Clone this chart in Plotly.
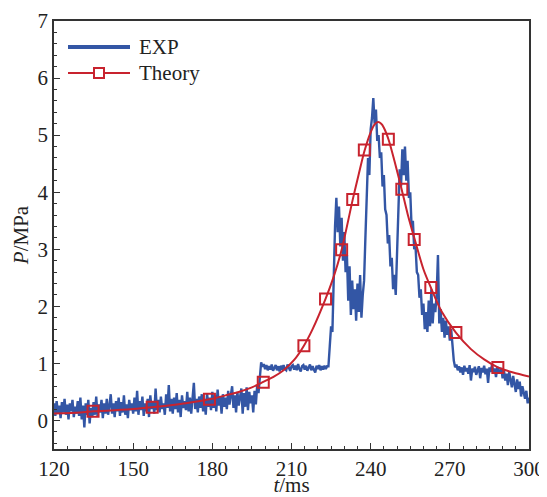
import numpy as np
import plotly.graph_objects as go

# ---------------- EXP data (segments: start time, values every 0.5 ms) ----------------
exp_step = 0.5
exp_seg1_t0 = 120.0
exp_seg1 = [
    0.30, 0.08, 0.34, 0.12, 0.26, 0.04, 0.32, 0.14, 0.38, 0.10,
    0.28, 0.02, 0.30, 0.16, 0.36, 0.06, 0.24, 0.12, 0.34, 0.08,
    0.40, 0.02, 0.26, -0.12, 0.30, 0.10, 0.36, -0.05, 0.22, 0.06,
    0.32, 0.10, 0.42, 0.08, 0.28, 0.14, 0.36, 0.04, 0.30, 0.12,
    0.38, 0.10, 0.26, 0.46, 0.12, 0.30, 0.06, 0.34, 0.16, 0.40,
    0.08, 0.32, 0.14, 0.44, 0.10, 0.28, 0.04, 0.36, 0.18, 0.30,
    0.12, 0.40, 0.16, 0.52, 0.10, 0.34, 0.18, 0.42, 0.08, 0.30,
    0.16, 0.38, 0.06, 0.44, 0.20, 0.34, 0.12, 0.56, 0.18, 0.36,
    0.14, 0.42, 0.20, 0.30, 0.10, 0.46, 0.22, 0.62, 0.16, 0.38,
    0.12, 0.40, 0.20, 0.48, 0.14, 0.36, 0.06, 0.44, 0.22, 0.34,
    0.18, 0.50, 0.16, 0.40, 0.12, 0.44, 0.66, 0.20, 0.38, 0.14,
    0.42, 0.22, 0.46, 0.16, 0.38, 0.10, 0.48, 0.24, 0.40, 0.18,
    0.50, 0.22, 0.44, 0.16, 0.54, 0.26, 0.42, 0.12, 0.46, 0.24,
    0.40, 0.20, 0.52, 0.28, 0.46, 0.60, 0.22, 0.44, 0.14, 0.50,
    0.26, 0.42, 0.56, 0.12, 0.48, 0.24, 0.58, 0.18, 0.50, 0.30,
    0.44, 0.14, 0.52, 0.28,
]
exp_seg2_t0 = 197.0
exp_seg2 = [
    0.62, 0.48, 0.85, 1.02, 0.94,
    0.99, 0.90, 0.97, 0.88, 0.95, 0.89, 0.98, 0.87, 0.94, 0.97,
    0.88, 0.95, 0.86, 0.96, 0.89, 0.97, 0.90, 0.88, 0.98, 0.91,
    0.87, 0.95, 0.97, 0.89, 0.96, 0.88, 0.99, 0.90, 0.86, 0.95,
    0.97, 0.89, 0.96, 0.87, 0.94, 0.98, 0.88, 0.95, 0.89, 0.84,
    0.96, 0.90, 0.97, 0.88, 0.95, 0.89, 0.96, 0.90, 0.95,
]
exp_seg3_t0 = 224.0
exp_seg3 = [
    0.95, 1.30, 1.65, 1.55, 2.60, 3.40, 3.90, 3.30, 3.75, 3.05,   # 224-228.5
    3.55, 2.80, 3.30, 2.60, 2.90, 2.10, 2.70, 1.85, 2.45, 1.95,   # 229-233.5
    2.30, 1.75, 2.40, 1.90, 2.55, 1.80, 2.20, 2.45, 3.20, 3.90,   # 234-238.5
    4.60, 4.30, 5.10, 5.30, 5.65, 5.20, 5.45, 4.90, 5.00, 4.60,   # 239-243.5
    4.70, 4.10, 4.30, 3.70, 3.60, 3.10, 3.25, 2.70, 2.85, 2.30,   # 244-248.5
    2.55, 2.20, 3.10, 3.80, 4.40, 4.10, 4.75, 4.30, 4.80, 4.20,   # 249-253.5
    4.55, 3.90, 4.00, 3.40, 3.50, 3.00, 3.05, 2.60, 2.55, 2.15,   # 254-258.5
    2.30, 1.85, 2.05, 1.60, 1.90, 1.55, 2.10, 1.65, 2.30, 1.70,   # 259-263.5
    2.05, 1.90, 2.20, 2.90, 1.70, 1.95, 1.55, 1.80, 1.45, 1.75,   # 264-268.5
    1.50, 1.65, 1.40, 1.60, 1.30, 1.05, 0.93,                     # 269-272
]
exp_seg4_t0 = 272.5
exp_seg4 = [
    0.98, 0.88, 0.95, 0.84, 0.93, 0.80, 0.96, 0.86, 0.92, 0.82,
    0.97, 0.70, 0.91, 0.85, 0.94, 0.80, 0.90, 0.95, 0.74, 0.92,
    0.84, 0.96, 0.81, 0.91, 0.66, 0.93, 0.85, 0.98, 0.82, 0.91,
    0.76, 0.94, 0.86,
]
exp_seg5_t0 = 289.0
exp_seg5 = [
    0.86, 0.92, 0.74, 0.88, 0.70, 0.82, 0.62, 0.85, 0.72, 0.58,
    0.78, 0.64, 0.50, 0.72, 0.55, 0.68, 0.42, 0.60, 0.48, 0.38,
    0.52, 0.30, 0.40,
]

# ---------------- Theory curve ----------------
theory_t = [120, 130, 135, 140, 150, 157, 165, 170, 179, 185, 190, 195, 199.5,
            203, 207, 211, 214.7, 218, 222.9, 226, 229, 233.2, 235.5, 237.7,
            240, 241.5, 242.8, 244, 245, 246.8, 249, 251.8, 254, 256.7, 260,
            262.8, 267, 272.3, 278, 283, 288.2, 294, 300]
theory_p = [0.12, 0.14, 0.16, 0.17, 0.20, 0.23, 0.27, 0.30, 0.37, 0.44, 0.50, 0.58, 0.68,
            0.76, 0.88, 1.06, 1.31, 1.60, 2.13, 2.52, 2.99, 3.87, 4.32, 4.73,
            5.05, 5.19, 5.23, 5.20, 5.13, 4.92, 4.55, 4.04, 3.62, 3.17, 2.65,
            2.33, 1.90, 1.54, 1.25, 1.07, 0.93, 0.84, 0.77]
marker_t = [134.8, 157.2, 178.9, 199.3, 214.7, 222.9, 229.0, 233.2, 237.6,
            246.7, 251.8, 256.5, 262.8, 272.3, 288.2]
marker_p = [0.16, 0.23, 0.37, 0.67, 1.31, 2.13, 2.99, 3.87, 4.74,
            4.93, 4.05, 3.17, 2.33, 1.54, 0.93]

legend_labels = ["EXP", "Theory"]

# ---------------- build ----------------
segments = [(exp_seg1_t0, exp_seg1), (exp_seg2_t0, exp_seg2), (exp_seg3_t0, exp_seg3),
            (exp_seg4_t0, exp_seg4), (exp_seg5_t0, exp_seg5)]
exp_t, exp_p = [], []
for t0, vals in segments:
    exp_t.extend(t0 + exp_step * np.arange(len(vals)))
    exp_p.extend(vals)

BLUE = "#3356A5"
RED = "#C8232E"
FONT = "Liberation Serif"
TXT = "#222222"
FS = 21
OFF = 8                     # page body margin of the html page
W, H = 547 - OFF, 497 - OFF
PL, PT, PR, PB = 54, 21, 529, 449   # plot-area edges in page pixels
ML, MT = PL - OFF, PT - OFF
MR, MB = W - (PR - OFF), H - (PB - OFF)
PW, PH = PR - PL, PB - PT

fig = go.Figure()
fig.add_trace(go.Scatter(x=exp_t, y=exp_p, mode="lines", name=legend_labels[0],
                         showlegend=False, line=dict(color=BLUE, width=2.4)))
fig.add_trace(go.Scatter(x=theory_t, y=theory_p, mode="lines", showlegend=False,
                         name=legend_labels[1],
                         line=dict(color=RED, width=2, shape="spline", smoothing=0.8)))
fig.add_trace(go.Scatter(x=marker_t, y=marker_p, mode="markers", showlegend=False,
                         name=legend_labels[1],
                         marker=dict(symbol="square-open", size=11, color=RED,
                                     line=dict(width=2, color=RED))))

axis_common = dict(showline=True, mirror=True, linecolor="#333333", linewidth=1.5,
                   ticks="inside", tickcolor="#333333", tickwidth=1.2, ticklen=6,
                   showgrid=False, zeroline=False, automargin=False,
                   tickfont=dict(family=FONT, size=FS, color=TXT))

fig.update_xaxes(range=[120, 300], tick0=120, dtick=30,
                 minor=dict(ticks="inside", dtick=5, ticklen=3, tickcolor="#333333", showgrid=False),
                 title=dict(text="<i>t</i>/ms", font=dict(family=FONT, size=FS, color=TXT),
                            standoff=1),
                 **axis_common)
fig.update_yaxes(range=[-0.5, 7], tick0=0, dtick=1,
                 minor=dict(ticks="inside", dtick=0.2, ticklen=3, tickcolor="#333333", showgrid=False),
                 title=dict(text="<i>P</i>/MPa", font=dict(family=FONT, size=FS, color=TXT),
                            standoff=3),
                 **axis_common)

# manual legend (page pixel positions converted to paper coordinates)
def px(x):
    return (x - PL) / PW

def py(y):
    return 1 - (y - PT) / PH

shapes = [
    dict(type="line", xref="paper", yref="paper", x0=px(68), x1=px(130), y0=py(47), y1=py(47),
         line=dict(color=BLUE, width=4)),
    dict(type="line", xref="paper", yref="paper", x0=px(68), x1=px(130), y0=py(73), y1=py(73),
         line=dict(color=RED, width=2)),
    dict(type="rect", xref="paper", yref="paper", x0=px(94), x1=px(104), y0=py(78), y1=py(68),
         line=dict(color=RED, width=2), fillcolor="white"),
]
annotations = [
    dict(text=legend_labels[0], xref="paper", yref="paper", x=px(137), y=py(47),
         xanchor="left", yanchor="middle", showarrow=False,
         font=dict(family=FONT, size=FS, color=TXT)),
    dict(text=legend_labels[1], xref="paper", yref="paper", x=px(137), y=py(73),
         xanchor="left", yanchor="middle", showarrow=False,
         font=dict(family=FONT, size=FS, color=TXT)),
]

fig.update_layout(
    width=W, height=H,
    margin=dict(l=ML, r=MR, t=MT, b=MB),
    paper_bgcolor="white", plot_bgcolor="white",
    font=dict(family=FONT, size=FS, color=TXT),
    showlegend=False,
    shapes=shapes, annotations=annotations,
)

fig.write_html("out.html")
